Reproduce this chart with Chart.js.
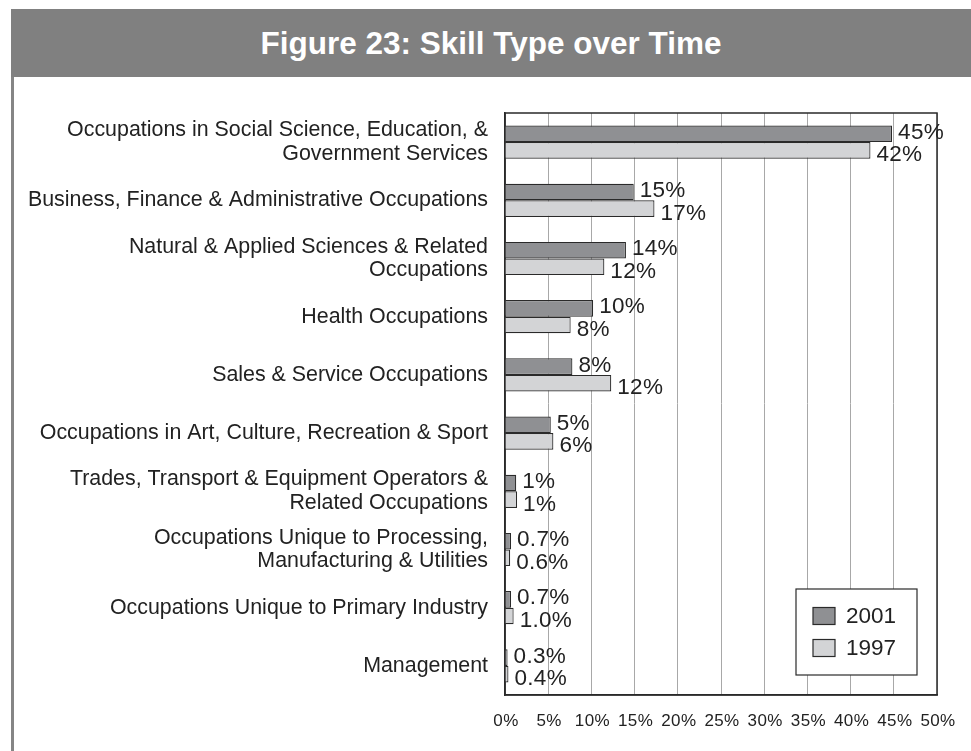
<!DOCTYPE html>
<html lang="en">
<head>
<meta charset="UTF-8">
<title>Figure 23: Skill Type over Time</title>
<style>
    body {
        margin: 0;
        width: 971px;
        height: 751px;
        background: #ffffff;
        font-family: "Liberation Sans", Arial, sans-serif;
        overflow: hidden;
        position: relative;
    }

    .frame-left {
        position: absolute;
        left: 11px;
        top: 9px;
        width: 3px;
        height: 742px;
        background: #858585;
    }

    .title-bar {
        position: absolute;
        left: 11px;
        top: 9px;
        right: 0;
        height: 68px;
        background: #808080;
        color: #ffffff;
        font-weight: bold;
        font-size: 31.5px;
        line-height: 68px;
        text-align: center;
    }

    .chart-box {
        position: absolute;
        left: 0;
        top: 77px;
        width: 971px;
        height: 674px;
    }
</style>
</head>
<body>
<div class="frame-left"></div>
<div class="title-bar">Figure 23: Skill Type over Time</div>
<div class="chart-box"><canvas id="skillChart"></canvas></div>

<script src="https://cdn.jsdelivr.net/npm/chart.js"></script>
<script>
// categories (multi-line labels as arrays)
const categories = [
    ['Occupations in Social Science, Education, &', 'Government Services'],
    'Business, Finance & Administrative Occupations',
    ['Natural & Applied Sciences & Related', 'Occupations'],
    'Health Occupations',
    'Sales & Service Occupations',
    'Occupations in Art, Culture, Recreation & Sport',
    ['Trades, Transport & Equipment Operators &', 'Related Occupations'],
    ['Occupations Unique to Processing,', 'Manufacturing & Utilities'],
    'Occupations Unique to Primary Industry',
    'Management'
];

// bar lengths (%)
const values2001 = [44.8, 14.9, 14.0, 10.2, 7.8, 5.3, 1.3, 0.7, 0.7, 0.3];
const values1997 = [42.3, 17.3, 11.5, 7.6, 12.3, 5.6, 1.4, 0.6, 1.0, 0.4];

// printed value labels
const labels2001 = ['45%', '15%', '14%', '10%', '8%', '5%', '1%', '0.7%', '0.7%', '0.3%'];
const labels1997 = ['42%', '17%', '12%', '8%', '12%', '6%', '1%', '0.6%', '1.0%', '0.4%'];

const seriesNames = ['2001', '1997'];
const xTicks = [0, 5, 10, 15, 20, 25, 30, 35, 40, 45, 50];

const FONT = '"Liberation Sans", Arial, sans-serif';
const colorDark = '#8f9093';
const colorLight = '#d3d4d6';
const edge = '#2a2a2a';

// value labels at bar ends
const valueLabels = {
    id: 'valueLabels',
    afterDatasetsDraw(chart) {
        const ctx = chart.ctx;
        const texts = [labels2001, labels1997];
        const dy = [5, 11]; // 2001 sits a bit higher, 1997 a bit lower
        ctx.save();
        ctx.font = '22.5px ' + FONT;
        ctx.letterSpacing = '0.3px';
        ctx.fillStyle = '#222';
        ctx.textAlign = 'left';
        ctx.textBaseline = 'alphabetic';
        chart.data.datasets.forEach((ds, i) => {
            chart.getDatasetMeta(i).data.forEach((bar, j) => {
                ctx.fillText(texts[i][j], bar.x + 6, bar.y + dy[i]);
            });
        });
        ctx.restore();
    }
};

// x tick labels under the grid lines
const xLabels = {
    id: 'xLabels',
    afterDraw(chart) {
        const ctx = chart.ctx;
        const sx = chart.scales.x;
        ctx.save();
        ctx.font = '17px ' + FONT;
        ctx.letterSpacing = '0.4px';
        ctx.fillStyle = '#222';
        ctx.textAlign = 'center';
        ctx.textBaseline = 'alphabetic';
        xTicks.forEach(v => {
            ctx.fillText(v + '%', sx.getPixelForValue(v) + 1, chart.chartArea.bottom + 31);
        });
        ctx.restore();
    }
};

// full box around plot area
const plotBorder = {
    id: 'plotBorder',
    beforeDatasetsDraw(chart) {
        const a = chart.chartArea;
        const ctx = chart.ctx;
        ctx.save();
        ctx.strokeStyle = edge;
        ctx.lineWidth = 1.5;
        ctx.strokeRect(a.left, a.top, a.right - a.left, a.bottom - a.top);
        ctx.restore();
    }
};

// boxed legend inside the plot
const boxLegend = {
    id: 'boxLegend',
    afterDraw(chart) {
        const ctx = chart.ctx;
        const a = chart.chartArea;
        const x = a.right - 141, y = a.bottom - 106;
        ctx.save();
        ctx.fillStyle = '#fff';
        ctx.fillRect(x, y, 121, 86);
        ctx.strokeStyle = edge;
        ctx.lineWidth = 1.2;
        ctx.strokeRect(x, y, 121, 86);
        ctx.font = '22.5px ' + FONT;
        ctx.textBaseline = 'middle';
        chart.data.datasets.forEach((ds, i) => {
            const cy = y + 27 + i * 32;
            ctx.fillStyle = ds.backgroundColor;
            ctx.fillRect(x + 17, cy - 8.5, 22, 17);
            ctx.strokeRect(x + 17, cy - 8.5, 22, 17);
            ctx.fillStyle = '#222';
            ctx.fillText(ds.label, x + 50, cy + 1);
        });
        ctx.restore();
    }
};

new Chart(document.getElementById('skillChart'), {
    type: 'bar',
    data: {
        labels: categories,
        datasets: [
            {
                label: seriesNames[0],
                data: values2001,
                backgroundColor: colorDark,
                borderColor: edge,
                borderWidth: 1.2,
                categoryPercentage: 0.57,
                barPercentage: 1
            },
            {
                label: seriesNames[1],
                data: values1997,
                backgroundColor: colorLight,
                borderColor: edge,
                borderWidth: 1.2,
                categoryPercentage: 0.57,
                barPercentage: 1
            }
        ]
    },
    options: {
        indexAxis: 'y',
        responsive: true,
        maintainAspectRatio: false,
        animation: false,
        layout: { padding: { top: 36, right: 34, left: 0, bottom: 0 } },
        plugins: {
            legend: { display: false },
            tooltip: { enabled: false }
        },
        scales: {
            x: {
                min: 0,
                max: 50,
                afterBuildTicks: s => { s.ticks = xTicks.map(v => ({ value: v })); },
                afterFit: s => { s.height = 56; },
                ticks: { display: false },
                grid: { color: '#a8a8a8', lineWidth: 1, drawTicks: false },
                border: { display: true, color: edge, width: 1.5 }
            },
            y: {
                afterFit: s => { s.width = 505; },
                ticks: {
                    color: '#222',
                    padding: 17,
                    autoSkip: false,
                    font: { family: FONT, size: 21.4, lineHeight: 1.1 }
                },
                grid: { display: false, drawTicks: false },
                border: { display: true, color: edge, width: 1.5 }
            }
        }
    },
    plugins: [plotBorder, valueLabels, xLabels, boxLegend]
});
</script>
</body>
</html>
